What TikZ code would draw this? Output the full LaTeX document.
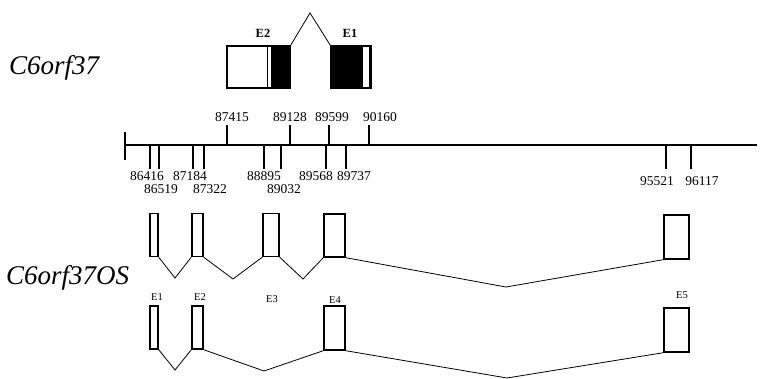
\documentclass[tikz,border=0pt]{standalone}
\usepackage{fontspec}
\setmainfont{Liberation Serif}
\begin{document}
\begin{tikzpicture}[x=1pt,y=-1pt,
  exon/.style={draw, line width=1.4pt, inner sep=0pt, rectangle},
  intron/.style={line width=0.8pt},
  num/.style={font=\fontsize{13.5}{13.5}\selectfont, inner sep=0pt},
  elab/.style={font=\fontsize{10.5}{10.5}\selectfont, inner sep=0pt},
  tlab/.style={font=\fontsize{12.5}{12.5}\selectfont\bfseries, inner sep=0pt},
  gname/.style={font=\fontsize{27}{27}\selectfont\itshape, inner sep=0pt},
  tick/.style={line width=1.1pt}]
\useasboundingbox (0,0) rectangle (760,379);

% gene names
\node[gname, anchor=base west] (g1) at (9,75) {C6orf37};
\node[gname, anchor=base west] (g2) at (6,284) {C6orf37OS};

% top gene structure
\node[exon, line width=1.2pt, minimum width=63pt, minimum height=42pt] (T2) at (258.5,67) {};
\node[exon, line width=1.2pt, minimum width=40pt, minimum height=42pt] (T1) at (351,67) {};
\fill[black] (271,46) rectangle (T2.south east);
\draw[line width=1pt] (267,46) -- (267,88);
\fill[black] (T1.north west) rectangle (363,88);
\draw[line width=2pt] (369.5,46) -- (369.5,88);
\coordinate (peak) at (310,13);
\draw[intron] (T2.north east) -- (peak) -- (T1.north west);
\node[tlab] (lT2) at (263,33) {E2};
\node[tlab] (lT1) at (350,33) {E1};

% axis
\coordinate (axL) at (125,145);
\coordinate (axR) at (757,145);
\draw[line width=1.4pt] (axL) -- (axR);
\draw[line width=1.6pt] (125,132) -- (125,160);

% ticks below
\foreach \x/\lx/\ly/\t in {150/147/176/86416, 159/161/189/86519, 193/190/176/87184,
  204/210/189/87322, 264/264/176/88895, 281/284/189/89032, 326/316/176/89568,
  346/354/176/89737, 666/657/181/95521, 691/702/181/96117}{
  \draw[tick] (\x,145) -- (\x,169);
  \node[num] (n\t) at (\lx,\ly) {\t};
}
% ticks above
\foreach \x/\lx/\t in {227/232/87415, 290/290/89128, 329/332/89599, 369/380/90160}{
  \draw[tick] (\x,145) -- (\x,125);
  \node[num] (n\t) at (\lx,117) {\t};
}

% transcript A
\node[exon, minimum width=8pt, minimum height=43pt] (A1) at (154,235) {};
\node[exon, minimum width=11pt, minimum height=43pt] (A2) at (197.5,235) {};
\node[exon, minimum width=16pt, minimum height=43pt] (A3) at (271,235) {};
\node[exon, minimum width=21pt, minimum height=43pt] (A4) at (334.5,235.5) {};
\node[exon, minimum width=25pt, minimum height=44pt] (A5) at (676.5,237) {};
\coordinate (vA1) at (175,278);
\coordinate (vA2) at (233,279);
\coordinate (vA3) at (303,279);
\coordinate (vA4) at (506,287);
\draw[intron] (A1.south east) -- (vA1) -- (A2.south west);
\draw[intron] (A2.south east) -- (vA2) -- (A3.south west);
\draw[intron] (A3.south east) -- (vA3) -- (A4.south west);
\draw[intron] (A4.south east) -- (vA4) -- (A5.south west);

% exon labels
\node[elab] (lE1) at (157,297) {E1};
\node[elab] (lE2) at (200,297) {E2};
\node[elab] (lE3) at (272,299) {E3};
\node[elab] (lE4) at (335,300) {E4};
\node[elab] (lE5) at (682,295) {E5};

% transcript B
\node[exon, minimum width=8pt, minimum height=43pt] (B1) at (154,327.5) {};
\node[exon, minimum width=11pt, minimum height=43pt] (B2) at (197.5,327.5) {};
\node[exon, minimum width=21pt, minimum height=44pt] (B4) at (334.5,328) {};
\node[exon, minimum width=25pt, minimum height=44pt] (B5) at (676.5,330) {};
\coordinate (vB1) at (175,370);
\coordinate (vB2) at (264,371);
\coordinate (vB3) at (507,378);
\draw[intron] (B1.south east) -- (vB1) -- (B2.south west);
\draw[intron] (B2.south east) -- (vB2) -- (B4.south west);
\draw[intron] (B4.south east) -- (vB3) -- (B5.south west);
\end{tikzpicture}
\end{document}
